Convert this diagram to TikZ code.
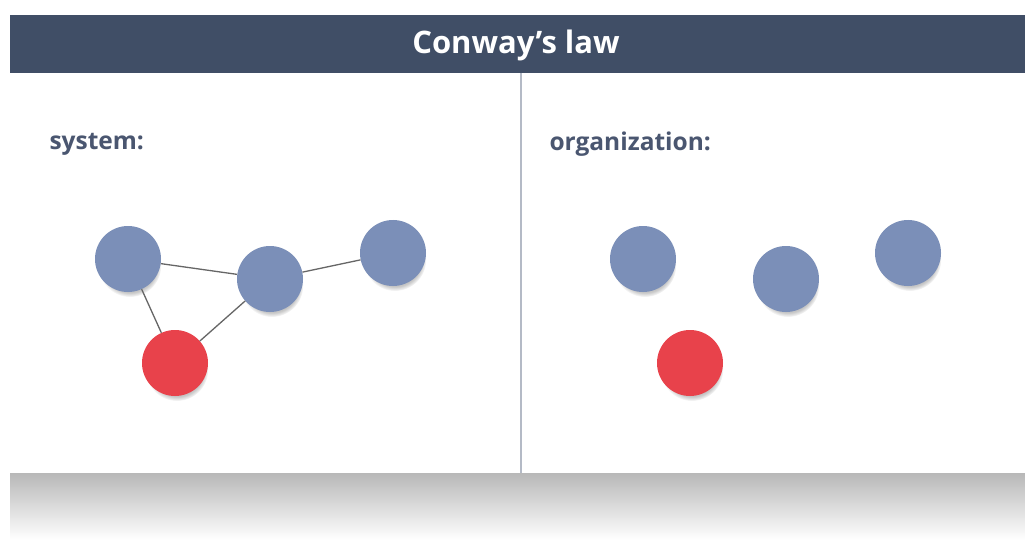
\documentclass[tikz,border=0pt]{standalone}
\usepackage{fontspec}
\setmainfont{Open Sans}
\usetikzlibrary{shadows}
\definecolor{barblue}{HTML}{404E66}
\definecolor{nodeblue}{HTML}{7B8FB8}
\definecolor{nodered}{HTML}{E8424B}
\definecolor{labelgray}{HTML}{4A5670}
\definecolor{splitgray}{HTML}{B4BAC6}
\begin{document}
\begin{tikzpicture}[x=1pt,y=-1pt,
		ball/.style={circle, minimum size=66pt, inner sep=0pt, fill=nodeblue, circular drop shadow={shadow xshift=2pt, shadow yshift=-7pt, shadow scale=0.95, opacity=0.45}},
		redball/.style={ball, fill=nodered},
		link/.style={draw=black!60, line width=1.3pt},
		heading/.style={anchor=west, font=\bfseries\fontsize{24.5}{28}\selectfont, text=labelgray}
	]
		\useasboundingbox (0,0) rectangle (1025,540);

		\shade[top color=black!28, bottom color=white] (10,473) rectangle (1025,540);
		\fill[white] (10,73) rectangle (1025,473);
		\fill[barblue] (10,15) rectangle (1025,73);
		\node[text=white, font=\bfseries\fontsize{31}{35}\selectfont] (title) at (516,45) {Conway’s law};
		\draw[draw=splitgray, line width=1.3pt] (521,73) -- (521,473);

		\node[heading] (system) at (46,144) {system:};
		\node[heading] (organization) at (546,144) {organization:};

		\node[ball] (s1) at (128,259) {};
		\node[ball] (s2) at (270,279) {};
		\node[ball] (s3) at (393,253) {};
		\node[redball] (s4) at (175,363) {};

		\draw[link] (s1) -- (s2);
		\draw[link] (s2) -- (s3);
		\draw[link] (s1) -- (s4);
		\draw[link] (s4) -- (s2);

		\node[ball] (o1) at (643,259) {};
		\node[ball] (o2) at (786,279) {};
		\node[ball] (o3) at (908,253) {};
		\node[redball] (o4) at (690,363) {};
	\end{tikzpicture}
\end{document}
